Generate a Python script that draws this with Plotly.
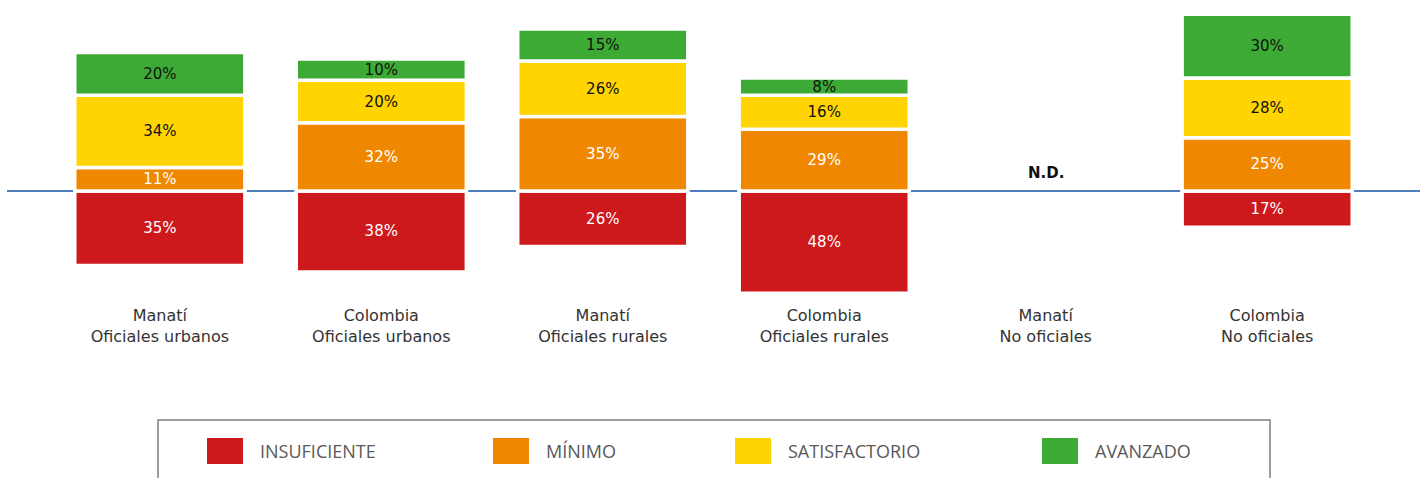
import plotly.graph_objects as go

categories = ["Manatí<br>Oficiales urbanos", "Colombia<br>Oficiales urbanos",
              "Manatí<br>Oficiales rurales", "Colombia<br>Oficiales rurales",
              "Manatí<br>No oficiales", "Colombia<br>No oficiales"]
insuficiente = [35, 38, 26, 48, None, 17]
minimo = [11, 32, 35, 29, None, 25]
satisfactorio = [34, 20, 26, 16, None, 28]
avanzado = [20, 10, 15, 8, None, 30]
series_names = ["INSUFICIENTE", "MÍNIMO", "SATISFACTORIO", "AVANZADO"]
series_colors = ["#CD181C", "#F08700", "#FFD400", "#3DAA35"]
text_colors = ["white", "white", "#111111", "#111111"]
nd_label = "N.D."
nd_index = 4

W, H = 1424, 478
ML, MR, MT, MB = 7, 4, 0, 178
PW, PH = W - ML - MR, H - MT - MB
k = 2.13  # px per percent
base_px = 191
y_top = base_px / k
y_bot = -(PH - base_px) / k

fig = go.Figure()
series = [insuficiente, minimo, satisfactorio, avanzado]
for i, (name, vals) in enumerate(zip(series_names, series)):
    sign = -1 if i == 0 else 1
    y = [None if v is None else sign * v for v in vals]
    txt = ["" if v is None else f"{v}%" for v in vals]
    fig.add_trace(go.Bar(
        x=categories, y=y, name=name, text=txt,
        textposition="inside", insidetextanchor="middle", textangle=0,
        constraintext="none",
        textfont=dict(family="DejaVu Sans", size=15, color=text_colors[i]),
        marker=dict(color=series_colors[i], line=dict(color="white", width=3.5)),
        showlegend=False, hoverinfo="skip",
    ))

fig.add_annotation(x=categories[nd_index], y=0, xref="x", yref="y", text=f"<b>{nd_label}</b>",
                   showarrow=False, yanchor="bottom", yshift=7,
                   font=dict(family="DejaVu Sans", size=15, color="#111111"))

def px_x(p):
    return (p - ML) / PW

def px_y(p):
    return (PH - (p - MT)) / PH

# legend box
fig.add_shape(type="rect", xref="paper", yref="paper",
              x0=px_x(158), x1=px_x(1270), y0=px_y(420), y1=px_y(495),
              line=dict(color="#7f7f7f", width=1.5), fillcolor="white", layer="below")
sw_x = [207, 493, 735, 1042]
for i, name in enumerate(series_names):
    fig.add_shape(type="rect", xref="paper", yref="paper",
                  x0=px_x(sw_x[i]), x1=px_x(sw_x[i] + 36), y0=px_y(464), y1=px_y(438),
                  line=dict(width=0), fillcolor=series_colors[i])
    fig.add_annotation(xref="paper", yref="paper", x=px_x(sw_x[i] + 51), y=px_y(451),
                       xanchor="left", yanchor="middle", text=name, showarrow=False,
                       font=dict(family="Open Sans", size=18, color="#595959"))

fig.update_layout(
    width=W, height=H,
    margin=dict(l=ML, r=MR, t=MT, b=MB),
    barmode="relative", bargap=0.232,
    plot_bgcolor="white", paper_bgcolor="white",
    xaxis=dict(range=[-0.69, 5.69], showgrid=False, showline=False, ticks="",
               tickfont=dict(family="DejaVu Sans", size=16, color="#333333"),
               ticklabelstandoff=4, fixedrange=True),
    yaxis=dict(range=[y_bot, y_top], showgrid=False, showticklabels=False,
               zeroline=True, zerolinecolor="#4F7DBE", zerolinewidth=2, fixedrange=True),
)

fig.write_html("out.html", config={"displayModeBar": False},
               post_script="document.body.style.margin='0';document.body.style.padding='0';")
